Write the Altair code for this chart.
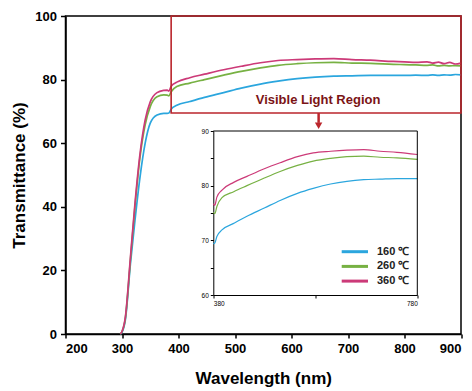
import altair as alt
import pandas as pd

# ---------------- data ----------------
wavelength = [297, 300, 306, 315, 323, 332, 341, 350,
              362, 374, 380, 383, 387, 397, 420, 446, 480, 511,
              545, 576, 610, 642, 675, 707, 740, 780, 800, 820,
              840, 850, 860, 870, 880, 890, 900]
t160 = [0, 0.5, 4.5, 22.2, 35.8, 49.5, 60.0, 66.3,
        68.9, 69.4, 69.4, 69.5, 70.7, 71.9, 73.1, 74.4, 75.9, 77.3,
        78.6, 79.5, 80.3, 80.8, 81.1, 81.2, 81.3, 81.3, 81.3, 81.4,
        81.3, 81.5, 81.3, 81.5, 81.4, 81.6, 81.5]
t260 = [0, 0.7, 5.0, 23.5, 40.2, 55.8, 65.8, 71.5,
        74.6, 75.2, 75.1, 74.9, 76.2, 77.8, 78.9, 80.0, 81.4, 82.6,
        83.7, 84.5, 85.0, 85.3, 85.4, 85.2, 85.1, 84.8, 84.7, 84.6,
        84.5, 84.6, 84.3, 84.5, 84.3, 84.4, 84.3]
t360 = [0, 0.8, 5.4, 24.3, 41.1, 56.8, 67.3, 73.0,
        75.9, 76.6, 76.7, 76.4, 77.9, 79.2, 80.6, 81.7, 83.1, 84.2,
        85.3, 86.0, 86.3, 86.5, 86.6, 86.3, 86.1, 85.7, 85.6, 85.4,
        85.6, 85.2, 85.5, 85.0, 85.4, 84.9, 85.2]
series_names = ["160 ℃", "260 ℃", "360 ℃"]
series_colors = ["#2ba6de", "#77b143", "#cc3a78"]

main_x_ticks = list(range(200, 901, 50))
main_y_ticks = list(range(0, 101, 10))
inset_x_ticks = [380, 580, 780]
inset_y_ticks = [60, 65, 70, 75, 80, 85, 90]
inset_x_domain = [380, 780]
inset_y_domain = [60, 90]
visible_box = {"x": 387, "x2": 900, "y": 69.5, "y2": 100}
region_label = "Visible Light Region"

# ---------------- tables ----------------
rows = []
for name, vals in zip(series_names, [t160, t260, t360]):
    for w, v in zip(wavelength, vals):
        rows.append({"wl": w, "T": v, "series": name})
df = pd.DataFrame(rows)
inset_df = df[(df.wl >= inset_x_domain[0]) & (df.wl <= inset_x_domain[1])]
one = pd.DataFrame({"_": [0]})

# ---------------- layout ----------------
W, H = 395.5, 318
FONT = "Liberation Sans"
RED = "#bb262c"
DARKRED = "#7b1416"

color = alt.Color("series:N",
                  scale=alt.Scale(domain=series_names, range=series_colors),
                  legend=None)

main_lines = alt.Chart(df).mark_line(strokeWidth=1.7, interpolate="monotone").encode(
    x=alt.X("wl:Q", scale=alt.Scale(domain=[200, 900], nice=False),
            axis=alt.Axis(title="Wavelength (nm)", values=main_x_ticks,
                          labelExpr="datum.value % 100 === 0 ? datum.label : ''",
                          tickSize=4, labelPadding=4, labelFontSize=13,
                          titleX=W / 2, titleY=49, titleBaseline="alphabetic",
                          titleFontSize=17)),
    y=alt.Y("T:Q", scale=alt.Scale(domain=[0, 100], nice=False),
            axis=alt.Axis(title="Transmittance (%)", values=main_y_ticks,
                          labelExpr="datum.value % 20 === 0 ? datum.label : ''",
                          tickSize=5, labelPadding=4, labelFontSize=13,
                          titleX=-41, titleY=H / 2, titleBaseline="alphabetic",
                          titleFontSize=17)),
    color=color,
)

vis_rect = alt.Chart(one).mark_rect(fill=None, stroke=RED, strokeWidth=1.6).encode(
    x=alt.datum(visible_box["x"]), x2=alt.datum(visible_box["x2"]),
    y=alt.datum(visible_box["y"]), y2=alt.datum(visible_box["y2"]),
)
vis_text = alt.Chart(one).mark_text(text=region_label, font=FONT, fontSize=13,
                                    fontWeight="bold", color=DARKRED,
                                    baseline="middle", align="center").encode(
    x=alt.datum(647), y=alt.datum(73.6),
)
arrow_shaft = alt.Chart(one).mark_rule(color=RED, strokeWidth=2.5).encode(
    x=alt.datum(648), y=alt.datum(visible_box["y"]), y2=alt.datum(66.4),
)
arrow_head = alt.Chart(one).mark_point(shape="triangle-down", filled=True,
                                       color=RED, size=55, opacity=1).encode(
    x=alt.datum(648), y=alt.datum(65.5),
)

legend_parts = []
for i, (name, col) in enumerate(zip(series_names, series_colors)):
    yy = 235.7 + i * 14.7
    legend_parts.append(alt.Chart(one).mark_rule(color=col, strokeWidth=3).encode(
        x=alt.value(276.2), x2=alt.value(302.5), y=alt.value(yy)))
    legend_parts.append(alt.Chart(one).mark_text(text=name, font=FONT, fontSize=11,
                                                 fontWeight="bold", color="#222",
                                                 align="left", baseline="middle").encode(
        x=alt.value(311.5), y=alt.value(yy)))

main = alt.layer(main_lines, vis_rect, vis_text, arrow_shaft, arrow_head, *legend_parts)

ixs = alt.Scale(domain=inset_x_domain, range=[147.8, 351.8], nice=False)
iys = alt.Scale(domain=inset_y_domain, range=[279, 115], nice=False)

inset_lines = alt.Chart(inset_df).mark_line(strokeWidth=1.2, interpolate="monotone").encode(
    x=alt.X("wl:Q", scale=ixs,
            axis=alt.Axis(title=None, orient="bottom", offset=-39, values=inset_x_ticks,
                          labelExpr="datum.value === 580 ? '' : datum.label",
                          tickSize=3, labelPadding=2, labelFontSize=6.5,
                          labelFontWeight="normal", domainWidth=1, tickWidth=1)),
    y=alt.Y("T:Q", scale=iys,
            axis=alt.Axis(title=None, orient="left", offset=-147.8, values=inset_y_ticks,
                          labelExpr="datum.value % 10 === 0 ? datum.label : ''",
                          tickSize=3, labelPadding=2, labelFontSize=6.5,
                          labelFontWeight="normal", domainWidth=1, tickWidth=1)),
    color=color,
)
inset_top = alt.Chart(one).mark_rule(color="black", strokeWidth=1).encode(
    x=alt.datum(inset_x_domain[0]), x2=alt.datum(inset_x_domain[1]),
    y=alt.datum(inset_y_domain[1]),
)
inset_right = alt.Chart(one).mark_rule(color="black", strokeWidth=1).encode(
    x=alt.datum(inset_x_domain[1]),
    y=alt.datum(inset_y_domain[0]), y2=alt.datum(inset_y_domain[1]),
)
inset = alt.layer(inset_lines, inset_top, inset_right)

chart = alt.layer(main, inset).resolve_scale(
    x="independent", y="independent"
).properties(
    width=W, height=H,
    autosize=alt.AutoSizeParams(type="none"),
    padding={"left": 65.5, "top": 16, "right": 11, "bottom": 57},
    background="white",
).configure_view(
    stroke="black", strokeWidth=1.5
).configure_axis(
    grid=False, domainColor="black", domainWidth=1.5, tickColor="black",
    tickWidth=1.5, labelColor="black", titleColor="black",
    labelFont=FONT, titleFont=FONT, labelFontWeight="bold", titleFontWeight="bold",
)

chart.save("out.html", embed_options={"renderer": "svg", "actions": False})
